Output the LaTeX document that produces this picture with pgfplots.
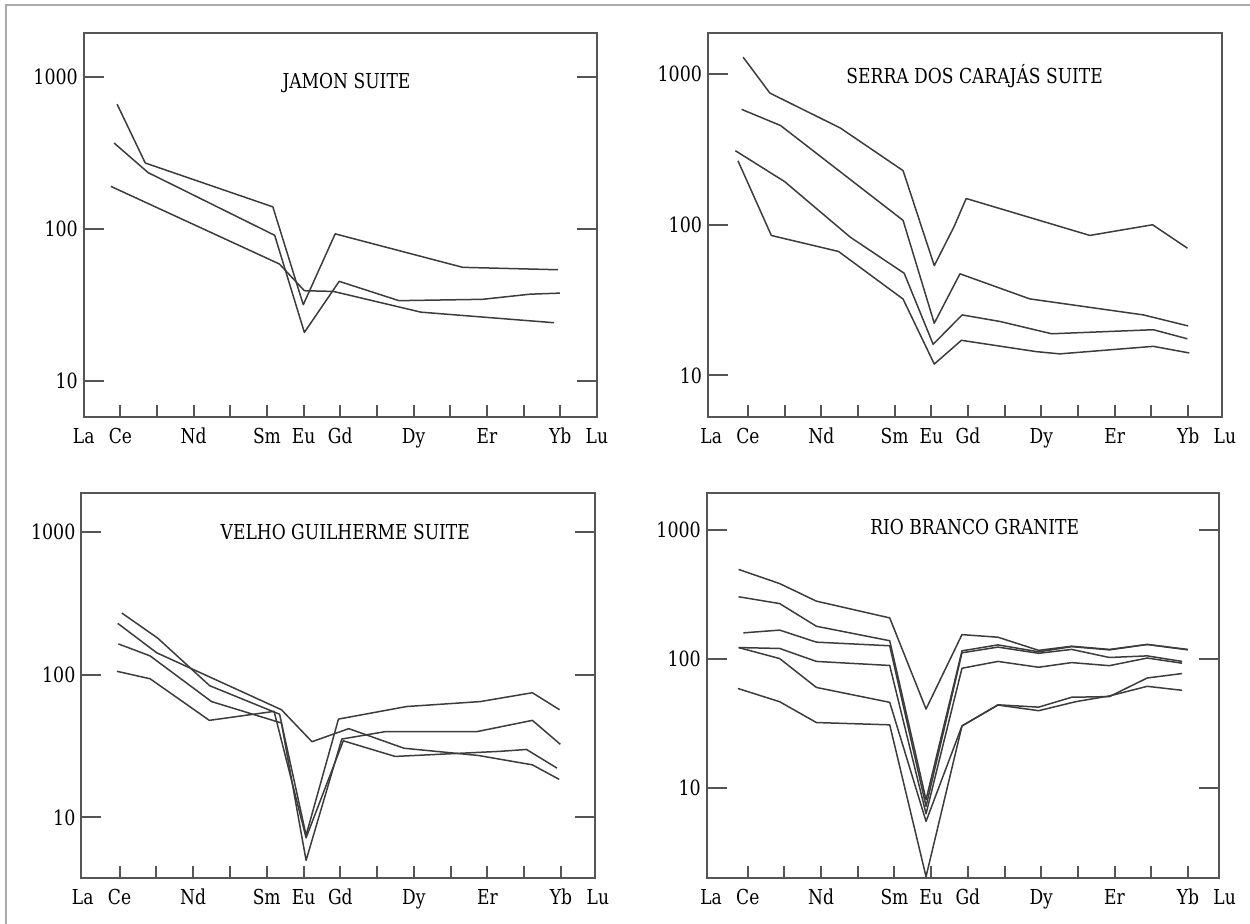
\documentclass[border=0pt]{standalone}
\usepackage{fontspec}
\setmainfont{DejaVu Serif}[FakeStretch=0.83]
\usepackage{pgfplots}
\pgfplotsset{compat=1.18}
\definecolor{axgray}{HTML}{555555}
\definecolor{lngray}{HTML}{3C3C3C}
\definecolor{frgray}{HTML}{AAAAAA}
\tikzset{
 ttl/.style={font=\fontsize{10.3}{12}\selectfont, text height=0.73em, text depth=0pt, inner sep=0pt},
 xlab/.style={font=\fontsize{10.3}{12}\selectfont, text height=7.5pt, text depth=2pt, inner sep=0pt, anchor=north, yshift=-5.7pt},
 ln/.style={draw=lngray, line width=0.75pt, mark=none, line join=round, solid},
}
\pgfplotsset{
 ree/.style={
  scale only axis,
  clip=false,
  axis line style={draw=axgray, line width=1pt},
  xtick={1,2,...,13},
  xticklabels={Ce,,Nd,,Sm,Eu,Gd,,Dy,,Er,,Yb},
  xtick pos=bottom, xtick align=inside,
  ytick={10,100,1000}, yticklabels={10,100,1000},
  yminorticks=false,
  ytick align=inside,
  major tick length=10pt,
  xtick style={/pgfplots/major tick length=6pt},
  tick style={draw=axgray, line width=1pt},
  xticklabel style={font=\fontsize{10.3}{12}\selectfont, text height=7.5pt, text depth=2pt, inner sep=0pt, anchor=north, yshift=-5.7pt},
  yticklabel style={font=\fontsize{10.5}{12}\selectfont, text height=7.6pt, text depth=0pt, inner sep=0pt, anchor=east, xshift=-2.75pt},
 },
}
\begin{document}
\begin{tikzpicture}
\useasboundingbox (0,0) rectangle (625pt,462pt);
\draw[frgray, line width=1pt] (2.9pt,0pt) -- (2.9pt,459.5pt) -- (625pt,459.5pt);

% Panel 1
\begin{semilogyaxis}[ree, at={(41.85pt,253.65pt)}, anchor=south west,
  width=256.6pt, height=191.7pt, xmin=0, xmax=14, ymin=5.83, ymax=1942, ytick pos=both]
\addplot[ln] coordinates {(0.91,664) (1.68,272) (5.16,140) (5.99,31.8) (6.86,93) (10.34,56) (12.94,54)};
\addplot[ln] coordinates {(0.83,368) (1.76,235) (5.21,91) (6.02,20.9) (6.97,45.3) (8.6,33.8) (10.88,34.5) (12.18,37.3) (12.99,37.9)};
\addplot[ln] coordinates {(0.74,191) (5.34,58.9) (6.02,39.3) (6.81,38.9) (9.2,28.4) (12.83,24.2)};
\node[ttl] at (rel axis cs:0.512,0.874) {JAMON SUITE};
\node[xlab] at (rel axis cs:0,0) {La};
\node[xlab] at (rel axis cs:1,0) {Lu};
\end{semilogyaxis}

% Panel 2
\begin{semilogyaxis}[ree, at={(353.95pt,253.65pt)}, anchor=south west,
  width=257pt, height=191.7pt, xmin=-0.09, xmax=13.92, ymin=5.33, ymax=1856, ytick pos=left]
\addplot[ln] coordinates {(0.87,1289) (1.60,745) (3.52,437) (5.23,228) (6.08,53.5) (6.62,97) (6.95,149) (10.32,84.8) (12.03,99.8) (12.98,69.8)};
\addplot[ln] coordinates {(0.83,581) (1.89,454) (5.23,106.7) (6.08,22.2) (6.78,47.2) (8.68,32.2) (11.78,25.2) (13.0,21.3)};
\addplot[ln] coordinates {(0.66,309) (2.0,193) (3.79,82.6) (5.26,47.6) (6.05,16.1) (6.84,25.2) (7.87,22.8) (9.28,18.9) (12.05,20.1) (12.98,17.5)};
\addplot[ln] coordinates {(0.73,265) (1.64,84.7) (3.47,66.4) (5.23,32.1) (6.08,11.9) (6.82,17.1) (8.85,14.4) (9.5,13.9) (12.05,15.6) (13.03,14.1)};
\node[ttl] at (rel axis cs:0.519,0.887) {SERRA DOS CARAJÁS SUITE};
\node[xlab] at (axis cs:0,5.33) {La};
\node[xlab] at (axis cs:14,5.33) {Lu};
\end{semilogyaxis}

% Panel 3
\begin{semilogyaxis}[ree, at={(40.65pt,23.15pt)}, anchor=south west,
  width=256.8pt, height=192.5pt, xmin=-0.04, xmax=13.92, ymin=3.78, ymax=1900, ytick pos=both]
\addplot[ln] coordinates {(1.06,272) (2.04,181) (3.45,84) (5.35,53) (6.07,7.5) (6.95,49) (8.8,60) (10.8,65) (12.22,75) (12.96,57)};
\addplot[ln] coordinates {(0.95,230) (2.01,143) (5.40,57) (6.23,34) (7.23,42) (8.73,30.6) (10.76,27.2) (12.22,23.4) (12.95,18.5)};
\addplot[ln] coordinates {(0.97,165) (1.83,136) (3.5,65) (5.4,46) (6.07,5.0) (7.04,35.5) (8.22,40) (10.71,40) (12.22,48) (12.98,32.6)};
\addplot[ln] coordinates {(0.93,106) (1.83,94) (3.44,48) (5.2,55.5) (6.07,7.2) (7.08,34.5) (8.49,26.8) (11.34,29.1) (12.06,30) (12.89,22.2)};
\node[ttl] at (rel axis cs:0.514,0.898) {VELHO GUILHERME SUITE};
\node[xlab] at (axis cs:0,3.78) {La};
\node[xlab] at (axis cs:14,3.78) {Lu};
\end{semilogyaxis}

% Panel 4
\begin{semilogyaxis}[ree, at={(353.35pt,23pt)}, anchor=south west,
  width=256.2pt, height=192.5pt, xmin=-0.12, xmax=13.85, ymin=2.0, ymax=1950, ytick pos=both]
\addplot[ln] coordinates {(0.75,497) (1.87,386) (2.87,282) (4.87,209) (5.86,41) (6.84,155) (7.82,148) (8.93,117) (9.83,126) (10.86,119) (11.89,130) (13.0,119)};
\addplot[ln] coordinates {(0.75,305) (1.87,270) (2.87,180) (4.87,139) (5.86,8.1) (6.84,116) (7.82,129) (8.93,114) (9.83,125) (10.86,118) (11.89,130) (13.0,118)};
\addplot[ln] coordinates {(0.88,160) (1.87,168) (2.87,135.5) (4.87,127) (5.86,7.2) (6.84,112) (7.82,124) (8.93,111) (9.83,119) (10.86,103) (11.89,106) (12.84,96)};
\addplot[ln] coordinates {(0.75,123) (1.87,121) (2.87,96) (4.87,89.3) (5.86,6.3) (6.84,85) (7.82,96) (8.93,86.5) (9.83,94) (10.86,89) (11.89,102) (12.84,93)};
\addplot[ln] coordinates {(0.75,123) (1.87,101) (2.87,60.3) (4.87,46.2) (5.86,5.5) (6.84,30.3) (7.82,44.2) (8.93,42.4) (9.83,50.6) (10.86,51.2) (11.89,71.4) (12.84,77.3)};
\addplot[ln] coordinates {(0.73,59.2) (1.87,46.7) (2.87,32.2) (4.87,30.9) (5.86,2.05) (6.84,30.3) (7.82,44) (8.93,39.8) (9.95,46.8) (10.86,51.8) (11.89,61.5) (12.84,57.3)};
\node[ttl] at (rel axis cs:0.523,0.910) {RIO BRANCO GRANITE};
\node[xlab] at (axis cs:0,2.0) {La};
\node[xlab] at (axis cs:14,2.0) {Lu};
\end{semilogyaxis}
\end{tikzpicture}
\end{document}
